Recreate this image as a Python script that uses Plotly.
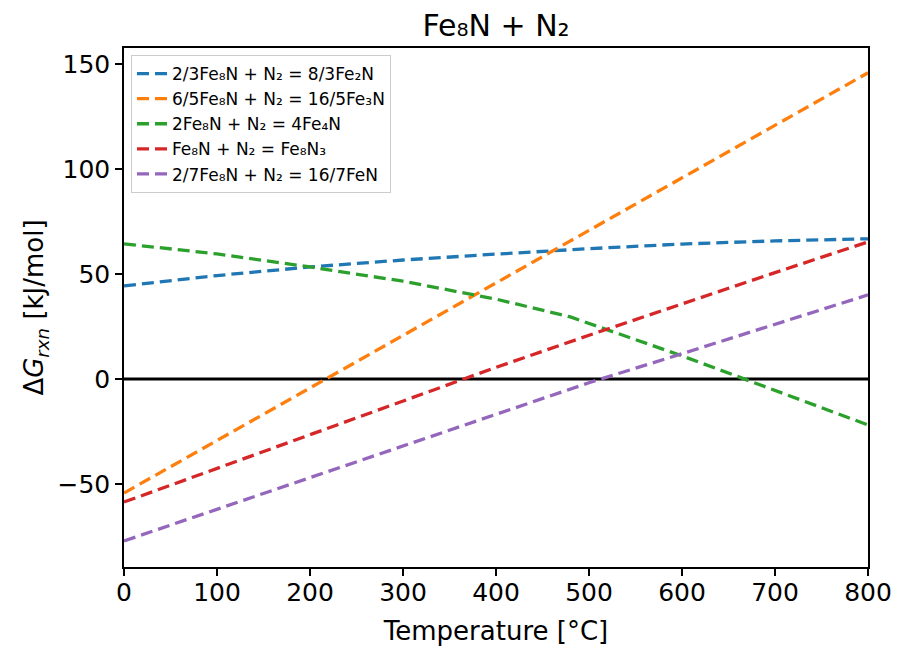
import plotly.graph_objects as go

temps = [0, 100, 200, 300, 400, 500, 600, 700, 800]
temps_green = [0, 100, 200, 300, 400, 480, 600, 700, 800]

names = [
    "2/3Fe₈N + N₂ = 8/3Fe₂N",
    "6/5Fe₈N + N₂ = 16/5Fe₃N",
    "2Fe₈N + N₂ = 4Fe₄N",
    "Fe₈N + N₂ = Fe₈N₃",
    "2/7Fe₈N + N₂ = 16/7FeN",
]
blue = [44.3, 49.2, 53.3, 56.6, 59.4, 62.0, 64.2, 65.7, 66.7]
orange = [-54.3, -29.3, -4.3, 20.7, 45.7, 70.7, 95.7, 120.7, 145.7]
green = [64.3, 59.5, 53.3, 46.5, 38.0, 29.5, 11.0, -5.5, -21.9]
red = [-58.6, -42.5, -26.5, -10.5, 5.5, 20.8, 35.8, 50.6, 65.2]
purple = [-77.1, -62.0, -47.0, -31.9, -16.8, -1.8, 12.0, 26.0, 40.0]

colors = ["#1f77b4", "#ff7f0e", "#2ca02c", "#d62728", "#9467bd"]
series = [(temps, blue), (temps, orange), (temps_green, green), (temps, red), (temps, purple)]

fig = go.Figure()
fig.add_trace(go.Scatter(x=[0, 800], y=[0, 0], mode="lines",
                         line=dict(color="black", width=3), showlegend=False, hoverinfo="skip"))
for (xs, ys), nm, c in zip(series, names, colors):
    fig.add_trace(go.Scatter(x=xs, y=ys, mode="lines", name=nm,
                             line=dict(color=c, width=3.3, dash="12px,6px")))

W, H = 883, 639
L, T, R, B = 116, 40, 23, 80

axis_common = dict(showline=True, linecolor="black", linewidth=1.5, mirror=True,
                   ticks="outside", ticklen=7, tickwidth=1.5, tickcolor="black",
                   showgrid=False, zeroline=False, automargin=False,
                   ticklabeloverflow="allow",
                   tickfont=dict(family="DejaVu Sans", size=25, color="black"))

fig.update_layout(
    width=W, height=H,
    margin=dict(l=L, r=R, t=T, b=B),
    plot_bgcolor="white", paper_bgcolor="white",
    title=dict(text="Fe₈N + N₂", x=(L + (W - R)) / 2 / W, xanchor="center",
               y=1 - 17 / H, yanchor="middle",
               font=dict(family="DejaVu Sans", size=30, color="black")),
    xaxis=dict(range=[0, 800], tickvals=[0, 100, 200, 300, 400, 500, 600, 700, 800],
               ticklabelstandoff=-5,
               title=dict(text="Temperature [°C]", standoff=16,
                          font=dict(family="DejaVu Sans", size=26, color="black")),
               **axis_common),
    yaxis=dict(range=[-89.5, 157.5], tickvals=[-50, 0, 50, 100, 150],
               title=dict(text="Δ<i>G</i><sub><i>rxn</i></sub> [kJ/mol]", standoff=6,
                          font=dict(family="DejaVu Sans", size=26, color="black")),
               **axis_common),
    legend=dict(x=0.0094, y=0.9865, xanchor="left", yanchor="top",
                bgcolor="rgba(255,255,255,0.8)", bordercolor="#cccccc", borderwidth=1,
                font=dict(family="DejaVu Sans", size=17, color="black"),
                tracegroupgap=0, itemwidth=30),
    showlegend=True,
)

fig.write_html("out.html")
